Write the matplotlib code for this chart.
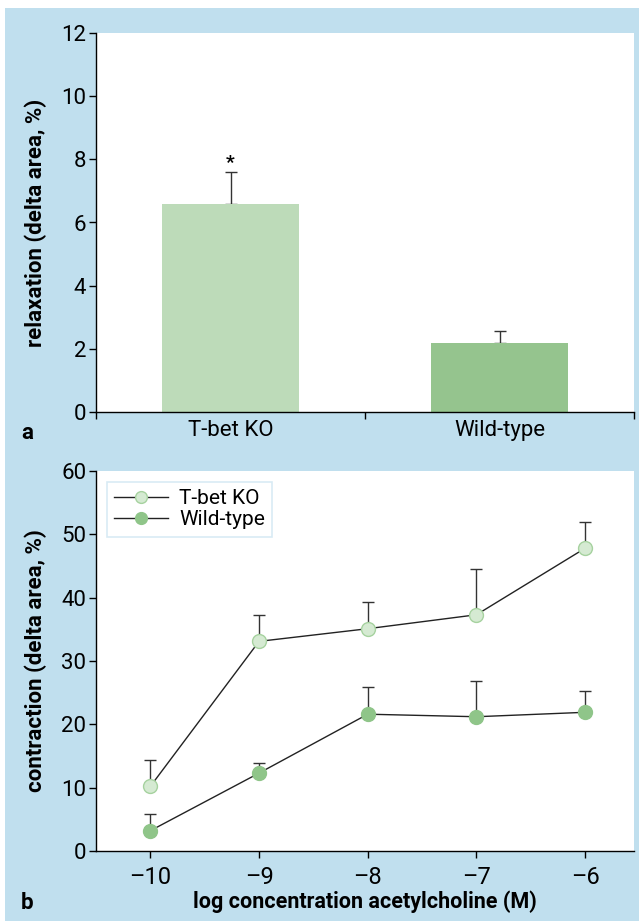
import matplotlib.pyplot as plt
from matplotlib.patches import Rectangle

# panel a: relaxation
groups = ['T-bet KO', 'Wild-type']
relax_mean = [6.6, 2.18]
relax_err = [1.0, 0.38]

# panel b: contraction vs log concentration acetylcholine
log_conc = [-10, -9, -8, -7, -6]
ko_mean = [10.2, 33.1, 35.1, 37.3, 47.8]
ko_err = [4.2, 4.1, 4.2, 7.2, 4.2]
wt_mean = [3.2, 12.3, 21.6, 21.2, 21.9]
wt_err = [2.7, 1.6, 4.3, 5.6, 3.4]

blue_bg = '#c0dfee'
bar_colors = ['#bddbb9', '#95c48e']
ko_face, ko_edge = '#d5ead2', '#a6d29f'
wt_face, wt_edge = '#8fc589', '#8fc589'

plt.rcParams['font.family'] = ['Roboto', 'DejaVu Sans']
plt.rcParams['axes.linewidth'] = 1.0

fig = plt.figure(figsize=(6.39, 9.21), dpi=100)
fig.patches.append(Rectangle((5 / 639, 0), 1, 1 - 8 / 921, transform=fig.transFigure,
                             facecolor=blue_bg, edgecolor='none', zorder=-10))

W = 639.0
H = 921.0


def axes_px(left, top, right, bottom):
    return fig.add_axes([left / W, 1 - bottom / H, (right - left) / W, (bottom - top) / H])


def style(ax):
    ax.spines['top'].set_visible(False)
    ax.spines['right'].set_visible(False)
    ax.tick_params(direction='out', length=5, width=1, labelsize=16, pad=2)
    ax.set_facecolor('white')


# ---- a ----
ax1 = axes_px(96, 33, 634, 412)
style(ax1)
xpos = [0.5, 1.5]
ax1.bar(xpos, relax_mean, width=0.51, color=bar_colors, zorder=2)
ax1.errorbar(xpos, relax_mean, yerr=[[0, 0], relax_err], fmt='none', ecolor='#333333',
             elinewidth=1, capsize=4, capthick=1, zorder=1)
ax1.text(xpos[0], relax_mean[0] + relax_err[0] + 0.3, '*', ha='center', va='center',
         fontsize=14, fontweight='bold')
ax1.set_xlim(0, 2)
ax1.set_ylim(0, 12)
ax1.set_yticks(range(0, 13, 2))
ax1.set_xticks([0, 1, 2])
ax1.set_xticklabels([])
ax1.set_xticks(xpos, minor=True)
ax1.set_xticklabels(groups, minor=True)
ax1.tick_params(axis='x', which='minor', length=0, labelsize=16, pad=6)
ax1.set_ylabel('relaxation (delta area, %)', fontsize=16, fontweight='bold', labelpad=10)
fig.text(27 / W, 1 - 433 / H, 'a', fontsize=16, fontweight='bold', ha='center', va='center')

# ---- b ----
ax2 = axes_px(96, 471, 634, 851)
style(ax2)
ax2.errorbar(log_conc, ko_mean, yerr=[[0] * 5, ko_err], fmt='none', ecolor='#333333',
             elinewidth=1, capsize=4, capthick=1, zorder=1)
ax2.errorbar(log_conc, wt_mean, yerr=[[0] * 5, wt_err], fmt='none', ecolor='#333333',
             elinewidth=1, capsize=4, capthick=1, zorder=1)
ax2.plot(log_conc, ko_mean, '-o', color='#222222', lw=1, ms=10, mfc=ko_face,
         mec=ko_edge, mew=1, label='T-bet KO', zorder=3)
ax2.plot(log_conc, wt_mean, '-o', color='#222222', lw=1, ms=10, mfc=wt_face,
         mec=wt_edge, mew=1, label='Wild-type', zorder=3)
ax2.set_xlim(-10.5, -5.55)
ax2.set_ylim(0, 60)
ax2.set_xticks(log_conc)
ax2.set_xticklabels(['\u2013' + str(abs(v)) for v in log_conc])
ax2.tick_params(axis='x', pad=6, labelsize=17)
ax2.set_yticks(range(0, 61, 10))
ax2.set_ylabel('contraction (delta area, %)', fontsize=16, fontweight='bold', labelpad=10)
ax2.set_xlabel('log concentration acetylcholine (M)', fontsize=15.5, fontweight='bold',
               labelpad=1)
leg = ax2.legend(loc='upper left', bbox_to_anchor=(11 / 538, 369 / 380), fontsize=15,
                 frameon=True, fancybox=False, edgecolor='#cfe6f2', handlelength=2.6,
                 handletextpad=0.5, borderpad=0.35, labelspacing=0.1, markerscale=0.85,
                 borderaxespad=0)
leg.get_frame().set_linewidth(1.2)
fig.text(27 / W, 1 - 903 / H, 'b', fontsize=16, fontweight='bold', ha='center', va='center')

fig.savefig('out.png', dpi=100)
